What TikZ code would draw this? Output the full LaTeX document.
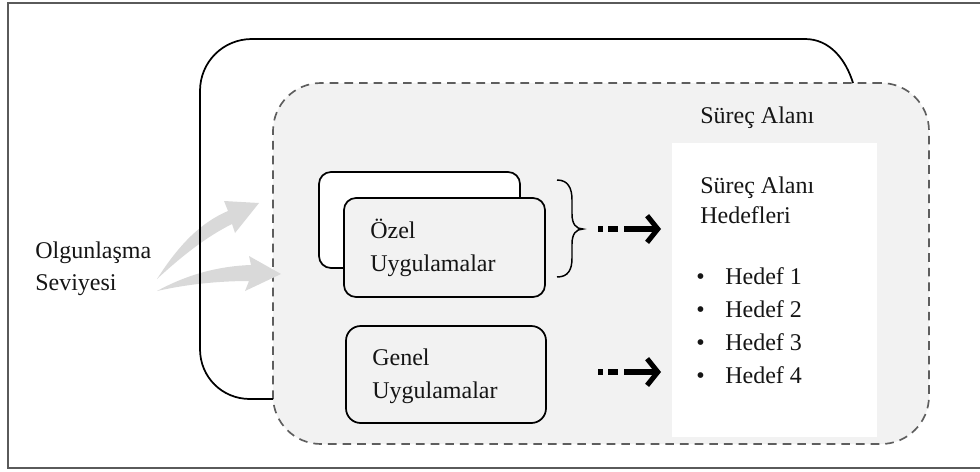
\documentclass[tikz,border=0pt]{standalone}
\usepackage{fontspec}
\setmainfont{Liberation Serif}
\newfontfamily\diagfont{Liberation Serif}
\usetikzlibrary{arrows.meta}
\definecolor{framegray}{HTML}{5A5A5A}
\definecolor{areafill}{HTML}{F2F2F2}
\definecolor{dashgray}{HTML}{5E5E5E}
\definecolor{flowgray}{HTML}{D9D9D9}
\definecolor{ink}{HTML}{151515}

\begin{document}
\begin{tikzpicture}[x=0.75pt,y=-0.75pt,
  lbl/.style={anchor=base west, inner sep=0pt, text=ink, font=\diagfont\fontsize{18}{22}\selectfont},
  appbox/.style={draw=black, line width=1.3pt, rounded corners=9pt, inner sep=0pt},
  flow/.style={line width=3.8pt, dash pattern=on 3.75pt off 3.75pt on 7.5pt off 4.5pt on 60pt off 0pt,
               -{Straight Barb[length=8pt,width=20pt]}},
  bracepath/.style={draw=black, line width=1.1pt},
]
\useasboundingbox (0,0) rectangle (980,471);

% outer frame
\draw[framegray, line width=1.3pt] (980,3) -- (8,3) -- (8,468) -- (980,468);

% process area (dashed, shaded)
\node[draw=dashgray, fill=areafill, line width=1.25pt, dash pattern=on 6.5pt off 4.5pt,
      rounded corners=36pt, minimum width=492pt, minimum height=270.75pt, inner sep=0pt]
      (alan) at (601,263.5) {};

% goals panel
\node[fill=white, minimum width=153.75pt, minimum height=220.5pt, inner sep=0pt]
      (hedefler) at (774.5,290) {};

% maturity level arrows
\fill[flowgray] (157,279) .. controls (180,243) and (202,222) .. (228,211) -- (224,201)
      -- (259,203) -- (235,233) -- (232,224) .. controls (206,237) and (182,256) .. cycle;
\fill[flowgray] (157,291) .. controls (188,274) and (220,266) .. (251,265) -- (249,256)
      -- (281,274) -- (245,291) -- (249,281) .. controls (220,281) and (188,284) .. cycle;

% maturity level outline
\draw[black, line width=1.3pt] (273,399) -- (250,399) .. controls (222,399) and (200,377) .. (200,349)
      -- (200,91) .. controls (200,62) and (223,39) .. (252,39) -- (805,39)
      .. controls (830,39) and (846,60) .. (853,83);

% practice boxes
\node[appbox, fill=white, minimum width=150.75pt, minimum height=72pt] (ozelback) at (419.5,220) {};
\node[appbox, fill=areafill, minimum width=150.75pt, minimum height=74.25pt] (ozel) at (444.5,247.5) {};
\node[appbox, fill=areafill, minimum width=150pt, minimum height=72.75pt, rounded corners=11pt] (genel) at (446,374.5) {};

% brace grouping the specific practices
\draw[bracepath] (557,180) .. controls (568,180) and (572,188) .. (572,200) -- (572,214)
      .. controls (572,224) and (576,229) .. (583,229)
      .. controls (576,229) and (572,234) .. (572,244) -- (572,258)
      .. controls (572,270) and (568,277) .. (557,277);
\coordinate (bracetip) at (583,229);

% flows into the goals
\coordinate (f1s) at (598,229);
\coordinate (f1e) at (661,229);
\coordinate (f2s) at (598,372);
\coordinate (f2e) at (661,372);
\draw[flow] (f1s) -- (f1e);
\draw[flow] (f2s) -- (f2e);

% labels
\node[lbl] (olg1) at (35,258) {Olgunlaşma};
\node[lbl] (olg2) at (35,290) {Seviyesi};
\node[lbl] (alanlbl) at (700,123) {Süreç Alanı};
\node[lbl] (ozel1) at (370,238) {Özel};
\node[lbl] (ozel2) at (370,271) {Uygulamalar};
\node[lbl] (genel1) at (372,365) {Genel};
\node[lbl] (genel2) at (372,398) {Uygulamalar};
\node[lbl] (hed1) at (700,193) {Süreç Alanı};
\node[lbl] (hed2) at (700,223) {Hedefleri};
\node[lbl] (g1) at (696,284) {\makebox[21.75pt][l]{•}Hedef 1};
\node[lbl] (g2) at (696,317) {\makebox[21.75pt][l]{•}Hedef 2};
\node[lbl] (g3) at (696,350) {\makebox[21.75pt][l]{•}Hedef 3};
\node[lbl] (g4) at (696,383) {\makebox[21.75pt][l]{•}Hedef 4};
\end{tikzpicture}
\end{document}
